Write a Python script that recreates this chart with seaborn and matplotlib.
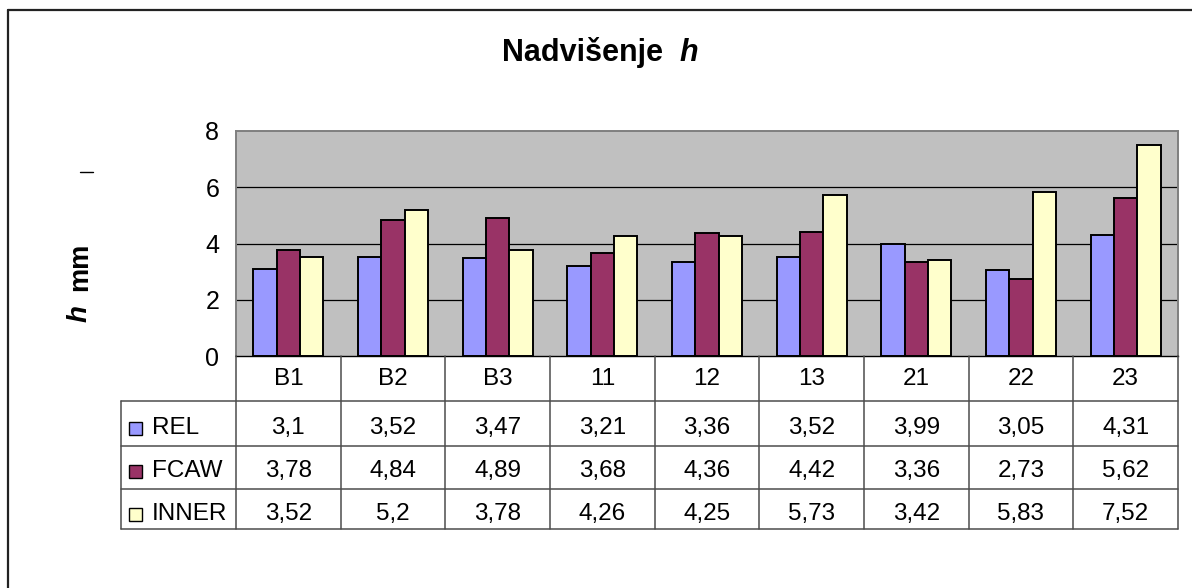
import matplotlib
matplotlib.use("Agg")
import matplotlib.pyplot as plt
from matplotlib.lines import Line2D
from matplotlib.patches import Rectangle
from matplotlib.transforms import blended_transform_factory
import pandas as pd
import seaborn as sns

# ---- data -------------------------------------------------------------
categories = ["B1", "B2", "B3", "11", "12", "13", "21", "22", "23"]
series_names = ["REL", "FCAW", "INNER"]
rel = [3.1, 3.52, 3.47, 3.21, 3.36, 3.52, 3.99, 3.05, 4.31]
fcaw = [3.78, 4.84, 4.89, 3.68, 4.36, 4.42, 3.36, 2.73, 5.62]
inner = [3.52, 5.2, 3.78, 4.26, 4.25, 5.73, 3.42, 5.83, 7.52]
colors = ["#9999FF", "#993366", "#FFFFCC"]
y_ticks = [0, 2, 4, 6, 8]

values = {"REL": rel, "FCAW": fcaw, "INNER": inner}
df = pd.DataFrame(
    [(c, s, v) for s in series_names for c, v in zip(categories, values[s])],
    columns=["uzorak", "postupak", "h"],
)

# ---- figure -----------------------------------------------------------
W, H = 1192, 588
sns.set_theme(style="white")
plt.rcParams["font.family"] = ["Liberation Sans", "DejaVu Sans"]
plt.rcParams["text.color"] = "black"
plt.rcParams["ytick.color"] = "black"
plt.rcParams["xtick.color"] = "black"

fig = plt.figure(figsize=(W / 100, H / 100), dpi=100)
fig.patch.set_facecolor("white")


def fx(px):
    return px / W


def fy(py):
    return 1 - py / H


# plot area
left, right, top, bottom = 236, 1178, 131, 356
ax = fig.add_axes([fx(left), fy(bottom), fx(right - left), (bottom - top) / H])

sns.barplot(
    data=df, x="uzorak", y="h", hue="postupak", order=categories,
    hue_order=series_names, palette=colors, width=0.67, gap=0,
    edgecolor="black", linewidth=1.4, saturation=1, legend=False, ax=ax,
)

ax.set_facecolor("#C0C0C0")
ax.set_xlim(-0.5, len(categories) - 0.5)
ax.set_ylim(y_ticks[0], y_ticks[-1])
ax.set_yticks(y_ticks)
ax.set_yticklabels([str(t) for t in y_ticks], fontsize=18)
ax.tick_params(axis="y", direction="out", length=6, width=0.8, color="black",
               labelcolor="black", pad=6)
ax.tick_params(axis="x", length=0, labelbottom=False)
ax.set_xlabel("")
ax.set_ylabel("")
ax.set_axisbelow(True)
for t in y_ticks[1:-1]:
    ax.axhline(t, color="black", linewidth=0.9, zorder=0.5)
for side in ["top", "right", "left"]:
    ax.spines[side].set_color("#7F7F7F")
    ax.spines[side].set_linewidth(1.4)
ax.spines["bottom"].set_color("black")
ax.spines["bottom"].set_linewidth(1.0)

# ---- data table under the plot ----------------------------------------
tx = blended_transform_factory(ax.transData, fig.transFigure)
ta = blended_transform_factory(ax.transAxes, fig.transFigure)
line_col = "#4D4D4D"
lw = 1.1
row_lines = [401, 446, 489, 529]
row_baselines = [434, 477, 520]
header_baseline = 385

span = right - left
legend_left = (121 - left) / span

# column boundaries
for i in range(len(categories) + 1):
    fig.add_artist(Line2D([i - 0.5, i - 0.5], [fy(bottom), fy(row_lines[-1])],
                          transform=tx, color=line_col, linewidth=lw))
# row boundaries
for r in row_lines:
    fig.add_artist(Line2D([legend_left, 1], [fy(r), fy(r)],
                          transform=ta, color=line_col, linewidth=lw))
fig.add_artist(Line2D([legend_left, legend_left], [fy(row_lines[0]), fy(row_lines[-1])],
                      transform=ta, color=line_col, linewidth=lw))

table_fs = 17.5
for i, c in enumerate(categories):
    fig.text(i, fy(header_baseline), c, transform=tx, ha="center", va="baseline",
             fontsize=table_fs)


def fmt(v):
    return f"{v:g}".replace(".", ",")


for r, name in enumerate(series_names):
    yb = row_baselines[r]
    for i, v in enumerate(values[name]):
        fig.text(i, fy(yb), fmt(v), transform=tx, ha="center", va="baseline",
                 fontsize=table_fs)
    sq = 13
    fig.add_artist(Rectangle(((129 - left) / span, fy(yb + 1)),
                             sq / span, sq / H, transform=ta,
                             facecolor=colors[r], edgecolor="black", linewidth=1.0))
    fig.text((152 - left) / span, fy(yb), name, transform=ta,
             ha="left", va="baseline", fontsize=table_fs)

# ---- titles -----------------------------------------------------------
t1 = fig.text(fx(502), fy(61), "Nadvišenje", fontsize=22, fontweight="bold",
              ha="left", va="baseline")
ax.annotate("h", xy=(1, 0), xycoords=t1, xytext=(16, 0), textcoords="offset pixels",
            fontsize=22, fontweight="bold", fontstyle="italic",
            ha="left", va="bottom", annotation_clip=False)

fig.text(fx(93), fy(322), "h", rotation=90, fontsize=20, fontweight="bold",
         fontstyle="italic", ha="right", va="bottom")
fig.text(fx(93), fy(291), "mm", rotation=90, fontsize=19.5, fontweight="bold",
         ha="right", va="bottom")

# small dash mark on the left
fig.add_artist(Line2D([fx(80), fx(93)], [fy(172), fy(172)], color="black", linewidth=1.0))

# chart frame
fig.add_artist(Line2D([fx(8), fx(8)], [fy(10), 0], color="#222222", linewidth=1.6))
fig.add_artist(Line2D([fx(8), 1], [fy(10), fy(10)], color="#222222", linewidth=1.6))

fig.savefig("out.png", dpi=100)
